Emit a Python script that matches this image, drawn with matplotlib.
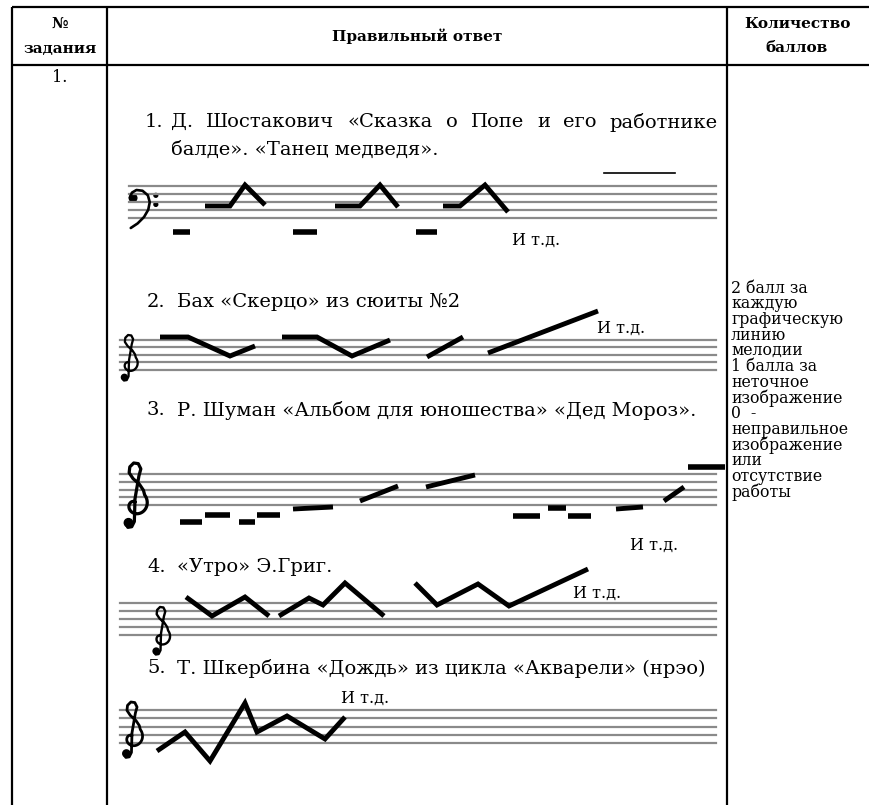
import numpy as np
import matplotlib
matplotlib.use("Agg")
import matplotlib.pyplot as plt
from matplotlib.patches import Circle

W, H = 869, 805

# table text
header_num = ["№", "задания"]
header_answer = "Правильный ответ"
header_score = ["Количество", "баллов"]
task_no = "1."
titles = [
    "Д. Шостакович «Сказка о Попе и его работнике",
    "балде». «Танец медведя».",
    "Бах «Скерцо» из сюиты №2",
    "Р. Шуман «Альбом для юношества» «Дед Мороз».",
    "«Утро» Э.Григ.",
    "Т. Шкербина «Дождь» из цикла «Акварели» (нрэо)",
]
score_lines = ["2 балл за", "каждую", "графическую", "линию", "мелодии",
               "1 балла за", "неточное", "изображение", "0  -",
               "неправильное", "изображение", "или", "отсутствие", "работы"]
etc = "И т.д."

# melody contours (x, y), one list per stroke
mel1 = [
    ([173, 190], [232, 232]),
    ([205, 230, 245, 265], [206, 206, 185, 205]),
    ([293, 317], [232, 232]),
    ([335, 360, 380, 398], [206, 206, 185, 207]),
    ([416, 437], [232, 232]),
    ([443, 460, 485, 508], [206, 206, 185, 212]),
]
overline1 = ([604, 675], [173, 173])
mel2 = [
    ([160, 188, 230, 255], [337, 337, 356, 346]),
    ([282, 317, 352, 390], [337, 337, 356, 340]),
    ([427, 463], [357, 337]),
    ([488, 598], [353, 311]),
]
mel3 = [
    ([180, 202], [522, 522]), ([205, 230], [515, 515]),
    ([239, 255], [522, 522]), ([257, 280], [515, 515]),
    ([293, 333], [509, 507]),
    ([360, 398], [501, 486]),
    ([426, 475], [487, 475]),
    ([513, 540], [516, 516]),
    ([548, 566], [508, 508]), ([568, 591], [516, 516]),
    ([616, 643], [509, 507]),
    ([664, 684], [501, 487]),
    ([688, 725], [467, 467]),
]
mel4 = [
    ([186, 212, 245, 269], [597, 616, 597, 616]),
    ([279, 309, 323, 345, 384], [616, 598, 605, 583, 616]),
    ([415, 437, 478, 509, 588], [583, 605, 584, 606, 569]),
]
mel5 = [
    ([157, 185, 210, 245, 257, 287, 325, 345],
     [751, 732, 761, 703, 732, 716, 739, 717]),
]

# staff: top line y, line gap, left end, clef kind, clef x, clef bottom y, clef height
staves = [
    (186, 8.0, 129, "F", 130, 228, 38),
    (340, 7.4, 120, "G", 129, 381, 46),
    (474, 7.8, 120, "G", 135, 528, 65),
    (603, 8.0, 120, "G", 161, 655, 48),
    (710, 8.25, 120, "G", 132, 758, 56),
]
melodies = [mel1, mel2, mel3, mel4, mel5]
etc_pos = [(512, 240), (597, 328), (630, 545), (573, 593), (341, 698)]

serif = ["DejaVu Serif"]

fig = plt.figure(figsize=(W / 100, H / 100), dpi=100)
ax = fig.add_axes([0, 0, 1, 1])
ax.set_xlim(0, W)
ax.set_ylim(H, 0)
ax.axis("off")


# no installed font has the clef glyphs, so they are drawn as strokes
def g_clef(cx, yb, h):
    t = np.linspace(0, 1.75 * np.pi, 80)
    r = 0.04 + 0.17 * t / t[-1]
    a = np.pi / 2 + t
    u = list(r * np.cos(a))
    v = list(0.36 + r * np.sin(a))
    u += [0.13, 0.07, -0.03, -0.09, -0.08, -0.02, 0.05, 0.09, 0.06, 0.0, -0.01, -0.05, -0.11, -0.14]
    v += [0.58, 0.67, 0.76, 0.85, 0.94, 1.0, 0.99, 0.91, 0.80, 0.45, 0.10, 0.02, 0.01, 0.07]
    u = np.array(u)
    v = np.array(v)
    ax.plot(cx + u * h, yb - v * h, color="black", lw=h / 28,
            solid_joinstyle="round", solid_capstyle="round")
    ax.add_patch(Circle((cx - 0.10 * h, yb - 0.08 * h), 0.065 * h, color="black"))


def f_clef(x0, yb, h):
    u = np.array([0.0, 0.05, 0.17, 0.33, 0.47, 0.52, 0.48, 0.37, 0.2, 0.02])
    v = np.array([0.80, 0.93, 1.0, 0.98, 0.86, 0.68, 0.48, 0.29, 0.12, 0.0])
    ax.plot(x0 + u * h, yb - v * h, color="black", lw=1.9,
            solid_joinstyle="round", solid_capstyle="round")
    ax.add_patch(Circle((x0 + 0.08 * h, yb - 0.79 * h), 0.1 * h, color="black"))
    for vv in (0.86, 0.62):
        ax.add_patch(Circle((x0 + 0.68 * h, yb - vv * h), 0.05 * h, color="black"))


# table grid
lk = dict(color="black", lw=1.6, solid_capstyle="butt")
ax.plot([12, W], [7, 7], **lk)
ax.plot([12, W], [65, 65], **lk)
for xv in [12, 107, 727]:
    ax.plot([xv, xv], [7, H], **lk)

hk = dict(family=serif, fontsize=11, fontweight="bold", ha="center", va="center")
ax.text(60, 24, header_num[0], **hk)
ax.text(60, 49, header_num[1], **hk)
ax.text(417, 36, header_answer, **hk)
ax.text(797, 24, header_score[0], **hk)
ax.text(797, 48, header_score[1], **hk)
ax.text(60, 77, task_no, family=serif, fontsize=11.5, ha="center", va="center")

# titles
tk = dict(family=serif, fontsize=14, va="center")
fig.canvas.draw()
rend = fig.canvas.get_renderer()


def justify(s, x0, x1, y):
    # spread words over [x0, x1] like a justified paragraph line
    words = s.split(" ")
    arts = [ax.text(0, y, w_, **tk) for w_ in words]
    inv = ax.transData.inverted()
    widths = []
    for a in arts:
        bb = a.get_window_extent(rend)
        widths.append(inv.transform((bb.x1, bb.y0))[0] - inv.transform((bb.x0, bb.y0))[0])
    gap = (x1 - x0 - sum(widths)) / (len(words) - 1)
    x = x0
    for a, w_ in zip(arts, widths):
        a.set_x(x)
        x += w_ + gap


ax.text(145, 122, "1.", **tk)
justify(titles[0], 171, 718, 122)
ax.text(171, 150, titles[1], **tk)
for num, s, y in [("2.", titles[2], 302), ("3.", titles[3], 410),
                  ("4.", titles[4], 567), ("5.", titles[5], 668)]:
    ax.text(147, y, num, **tk)
    ax.text(177, y, s, **tk)

# right column
for i, s in enumerate(score_lines):
    ax.text(731, 288 + i * 15.7, s, family=serif, fontsize=11.3, va="center")

# staves, clefs, melodies
for (top, gap, x0, kind, cx, cb, ch), mel, (ex, ey) in zip(staves, melodies, etc_pos):
    for k in range(5):
        ax.plot([x0, 716], [top + k * gap] * 2, color="#8a8a8a", lw=1.6)
    if kind == "G":
        g_clef(cx, cb, ch)
    else:
        f_clef(cx, cb, ch)
    for xs, ys in mel:
        lw = 4.0 if len(xs) == 2 and ys[0] == ys[1] else 3.5
        ax.plot(xs, ys, color="black", lw=lw, solid_capstyle="butt",
                solid_joinstyle="miter")
    ax.text(ex, ey, etc, family=serif, fontsize=11.5, va="center")

ax.plot(*overline1, color="black", lw=1.2)

fig.savefig("out.png", dpi=100, facecolor="white")
